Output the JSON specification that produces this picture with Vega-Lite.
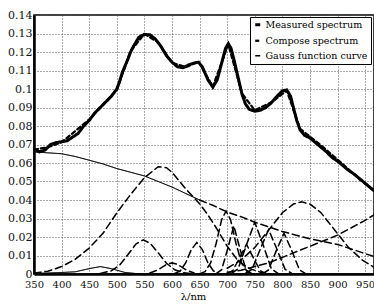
{
  "$schema": "https://vega.github.io/schema/vega-lite/v6.json",
  "width": 340,
  "height": 259,
  "autosize": {"type": "none"},
  "padding": {"left": 34, "top": 15, "right": 0, "bottom": 30},
  "background": "white",
  "config": {
    "font": "DejaVu Serif",
    "view": {"stroke": "black", "strokeWidth": 1.5},
    "axis": {
      "labelFont": "DejaVu Serif",
      "titleFont": "DejaVu Serif",
      "labelFontSize": 11,
      "labelFontWeight": "normal",
      "labelColor": "#111",
      "grid": true,
      "gridColor": "#555",
      "gridDash": [1, 2],
      "gridOpacity": 1,
      "gridWidth": 1,
      "ticks": false,
      "domainColor": "black",
      "domainWidth": 2.5
    },
    "legend": {
      "labelFont": "DejaVu Serif"
    }
  },
  "data": {"values": [
    {"c":"bgs","t":"Background","x":350,"y":0.066},{"c":"bgs","t":"Background","x":375,"y":0.0655},{"c":"bgs","t":"Background","x":400,"y":0.065},{"c":"bgs","t":"Background","x":425,"y":0.0635},{"c":"bgs","t":"Background","x":450,"y":0.0615},{"c":"bgs","t":"Background","x":475,"y":0.0595},{"c":"bgs","t":"Background","x":500,"y":0.057},{"c":"bgs","t":"Background","x":525,"y":0.055},{"c":"bgs","t":"Background","x":550,"y":0.053},{"c":"bgs","t":"Background","x":575,"y":0.05},{"c":"bgs","t":"Background","x":600,"y":0.047},{"c":"bgs","t":"Background","x":625,"y":0.0435},{"c":"bgs","t":"Background","x":650,"y":0.04},
    {"c":"bgd","t":"Gauss function curve","x":650,"y":0.04},{"c":"bgd","t":"Gauss function curve","x":675,"y":0.037},{"c":"bgd","t":"Gauss function curve","x":700,"y":0.0335},{"c":"bgd","t":"Gauss function curve","x":725,"y":0.031},{"c":"bgd","t":"Gauss function curve","x":750,"y":0.028},{"c":"bgd","t":"Gauss function curve","x":775,"y":0.0255},{"c":"bgd","t":"Gauss function curve","x":800,"y":0.023},{"c":"bgd","t":"Gauss function curve","x":825,"y":0.021},{"c":"bgd","t":"Gauss function curve","x":850,"y":0.019},{"c":"bgd","t":"Gauss function curve","x":875,"y":0.0175},{"c":"bgd","t":"Gauss function curve","x":900,"y":0.016},{"c":"bgd","t":"Gauss function curve","x":925,"y":0.0135},{"c":"bgd","t":"Gauss function curve","x":950,"y":0.011},{"c":"bgd","t":"Gauss function curve","x":966,"y":0.0095},
    {"c":"g575","t":"Gauss function curve","x":350,"y":0.0005},{"c":"g575","t":"Gauss function curve","x":375,"y":0.0015},{"c":"g575","t":"Gauss function curve","x":400,"y":0.004},{"c":"g575","t":"Gauss function curve","x":425,"y":0.008},{"c":"g575","t":"Gauss function curve","x":450,"y":0.014},{"c":"g575","t":"Gauss function curve","x":475,"y":0.022},{"c":"g575","t":"Gauss function curve","x":500,"y":0.033},{"c":"g575","t":"Gauss function curve","x":525,"y":0.043},{"c":"g575","t":"Gauss function curve","x":550,"y":0.052},{"c":"g575","t":"Gauss function curve","x":575,"y":0.058},{"c":"g575","t":"Gauss function curve","x":590,"y":0.0575},{"c":"g575","t":"Gauss function curve","x":600,"y":0.055},{"c":"g575","t":"Gauss function curve","x":625,"y":0.046},{"c":"g575","t":"Gauss function curve","x":650,"y":0.038},{"c":"g575","t":"Gauss function curve","x":665,"y":0.032},{"c":"g575","t":"Gauss function curve","x":680,"y":0.025},{"c":"g575","t":"Gauss function curve","x":700,"y":0.015},{"c":"g575","t":"Gauss function curve","x":720,"y":0.007},{"c":"g575","t":"Gauss function curve","x":740,"y":0.003},{"c":"g575","t":"Gauss function curve","x":760,"y":0.001},{"c":"g575","t":"Gauss function curve","x":780,"y":0.0},
    {"c":"g548","t":"Gauss function curve","x":470,"y":0.0003},{"c":"g548","t":"Gauss function curve","x":490,"y":0.0017},{"c":"g548","t":"Gauss function curve","x":505,"y":0.0048},{"c":"g548","t":"Gauss function curve","x":520,"y":0.0104},{"c":"g548","t":"Gauss function curve","x":535,"y":0.0163},{"c":"g548","t":"Gauss function curve","x":548,"y":0.0185},{"c":"g548","t":"Gauss function curve","x":560,"y":0.0167},{"c":"g548","t":"Gauss function curve","x":575,"y":0.0115},{"c":"g548","t":"Gauss function curve","x":590,"y":0.0058},{"c":"g548","t":"Gauss function curve","x":605,"y":0.0023},{"c":"g548","t":"Gauss function curve","x":620,"y":0.0007},{"c":"g548","t":"Gauss function curve","x":640,"y":0.0001},
    {"c":"g470","t":"Background","x":350,"y":0.0003},{"c":"g470","t":"Background","x":400,"y":0.0008},{"c":"g470","t":"Background","x":425,"y":0.0012},{"c":"g470","t":"Background","x":450,"y":0.0029},{"c":"g470","t":"Background","x":470,"y":0.004},{"c":"g470","t":"Background","x":490,"y":0.0029},{"c":"g470","t":"Background","x":515,"y":0.0008},{"c":"g470","t":"Background","x":540,"y":0.0001},
    {"c":"g600","t":"Gauss function curve","x":560,"y":0.0005},{"c":"g600","t":"Gauss function curve","x":575,"y":0.0023},{"c":"g600","t":"Gauss function curve","x":590,"y":0.0052},{"c":"g600","t":"Gauss function curve","x":600,"y":0.006},{"c":"g600","t":"Gauss function curve","x":610,"y":0.0052},{"c":"g600","t":"Gauss function curve","x":625,"y":0.0023},{"c":"g600","t":"Gauss function curve","x":640,"y":0.0005},
    {"c":"g645","t":"Gauss function curve","x":605,"y":0.0003},{"c":"g645","t":"Gauss function curve","x":615,"y":0.0017},{"c":"g645","t":"Gauss function curve","x":625,"y":0.0061},{"c":"g645","t":"Gauss function curve","x":635,"y":0.0132},{"c":"g645","t":"Gauss function curve","x":645,"y":0.017},{"c":"g645","t":"Gauss function curve","x":655,"y":0.0132},{"c":"g645","t":"Gauss function curve","x":665,"y":0.0061},{"c":"g645","t":"Gauss function curve","x":675,"y":0.0017},{"c":"g645","t":"Gauss function curve","x":685,"y":0.0003},
    {"c":"g698","t":"Gauss function curve","x":650,"y":0.0002},{"c":"g698","t":"Gauss function curve","x":660,"y":0.0013},{"c":"g698","t":"Gauss function curve","x":670,"y":0.006},{"c":"g698","t":"Gauss function curve","x":680,"y":0.0165},{"c":"g698","t":"Gauss function curve","x":690,"y":0.0294},{"c":"g698","t":"Gauss function curve","x":698,"y":0.034},{"c":"g698","t":"Gauss function curve","x":706,"y":0.0294},{"c":"g698","t":"Gauss function curve","x":716,"y":0.0165},{"c":"g698","t":"Gauss function curve","x":726,"y":0.006},{"c":"g698","t":"Gauss function curve","x":736,"y":0.0013},{"c":"g698","t":"Gauss function curve","x":746,"y":0.0002},
    {"c":"g712","t":"Gauss function curve","x":680,"y":0.0002},{"c":"g712","t":"Gauss function curve","x":690,"y":0.0023},{"c":"g712","t":"Gauss function curve","x":700,"y":0.0127},{"c":"g712","t":"Gauss function curve","x":712,"y":0.026},{"c":"g712","t":"Gauss function curve","x":724,"y":0.0127},{"c":"g712","t":"Gauss function curve","x":734,"y":0.0023},{"c":"g712","t":"Gauss function curve","x":744,"y":0.0002},
    {"c":"g735","t":"Gauss function curve","x":700,"y":0.0002},{"c":"g735","t":"Gauss function curve","x":710,"y":0.0018},{"c":"g735","t":"Gauss function curve","x":720,"y":0.0073},{"c":"g735","t":"Gauss function curve","x":735,"y":0.016},{"c":"g735","t":"Gauss function curve","x":750,"y":0.0073},{"c":"g735","t":"Gauss function curve","x":760,"y":0.0018},{"c":"g735","t":"Gauss function curve","x":770,"y":0.0002},
    {"c":"g750","t":"Gauss function curve","x":708,"y":0.0003},{"c":"g750","t":"Gauss function curve","x":720,"y":0.0029},{"c":"g750","t":"Gauss function curve","x":735,"y":0.0158},{"c":"g750","t":"Gauss function curve","x":750,"y":0.028},{"c":"g750","t":"Gauss function curve","x":765,"y":0.0158},{"c":"g750","t":"Gauss function curve","x":780,"y":0.0029},{"c":"g750","t":"Gauss function curve","x":792,"y":0.0003},
    {"c":"g775","t":"Gauss function curve","x":733,"y":0.0003},{"c":"g775","t":"Gauss function curve","x":745,"y":0.0025},{"c":"g775","t":"Gauss function curve","x":760,"y":0.0135},{"c":"g775","t":"Gauss function curve","x":775,"y":0.024},{"c":"g775","t":"Gauss function curve","x":790,"y":0.0135},{"c":"g775","t":"Gauss function curve","x":805,"y":0.0025},{"c":"g775","t":"Gauss function curve","x":817,"y":0.0003},
    {"c":"g803","t":"Gauss function curve","x":764,"y":0.0002},{"c":"g803","t":"Gauss function curve","x":775,"y":0.0022},{"c":"g803","t":"Gauss function curve","x":790,"y":0.0134},{"c":"g803","t":"Gauss function curve","x":803,"y":0.022},{"c":"g803","t":"Gauss function curve","x":816,"y":0.0134},{"c":"g803","t":"Gauss function curve","x":831,"y":0.0022},{"c":"g803","t":"Gauss function curve","x":842,"y":0.0002},
    {"c":"g835","t":"Gauss function curve","x":700,"y":0.0031},{"c":"g835","t":"Gauss function curve","x":725,"y":0.0075},{"c":"g835","t":"Gauss function curve","x":750,"y":0.0143},{"c":"g835","t":"Gauss function curve","x":775,"y":0.0237},{"c":"g835","t":"Gauss function curve","x":800,"y":0.0331},{"c":"g835","t":"Gauss function curve","x":820,"y":0.0378},{"c":"g835","t":"Gauss function curve","x":835,"y":0.039},{"c":"g835","t":"Gauss function curve","x":850,"y":0.0378},{"c":"g835","t":"Gauss function curve","x":870,"y":0.0331},{"c":"g835","t":"Gauss function curve","x":895,"y":0.0237},{"c":"g835","t":"Gauss function curve","x":920,"y":0.0143},{"c":"g835","t":"Gauss function curve","x":945,"y":0.0075},{"c":"g835","t":"Gauss function curve","x":966,"y":0.0036},
    {"c":"gir","t":"Gauss function curve","x":700,"y":0.001},{"c":"gir","t":"Gauss function curve","x":725,"y":0.002},{"c":"gir","t":"Gauss function curve","x":750,"y":0.004},{"c":"gir","t":"Gauss function curve","x":775,"y":0.006},{"c":"gir","t":"Gauss function curve","x":800,"y":0.009},{"c":"gir","t":"Gauss function curve","x":825,"y":0.012},{"c":"gir","t":"Gauss function curve","x":850,"y":0.015},{"c":"gir","t":"Gauss function curve","x":875,"y":0.018},{"c":"gir","t":"Gauss function curve","x":900,"y":0.021},{"c":"gir","t":"Gauss function curve","x":925,"y":0.025},{"c":"gir","t":"Gauss function curve","x":950,"y":0.029},{"c":"gir","t":"Gauss function curve","x":966,"y":0.032},
    {"c":"meas","t":"Measured spectrum","x":350,"y":0.0675},{"c":"meas","t":"Measured spectrum","x":360,"y":0.066},{"c":"meas","t":"Measured spectrum","x":370,"y":0.067},{"c":"meas","t":"Measured spectrum","x":380,"y":0.07},{"c":"meas","t":"Measured spectrum","x":390,"y":0.071},{"c":"meas","t":"Measured spectrum","x":400,"y":0.0715},{"c":"meas","t":"Measured spectrum","x":410,"y":0.072},{"c":"meas","t":"Measured spectrum","x":420,"y":0.074},{"c":"meas","t":"Measured spectrum","x":430,"y":0.076},{"c":"meas","t":"Measured spectrum","x":440,"y":0.08},{"c":"meas","t":"Measured spectrum","x":450,"y":0.083},{"c":"meas","t":"Measured spectrum","x":460,"y":0.087},{"c":"meas","t":"Measured spectrum","x":470,"y":0.09},{"c":"meas","t":"Measured spectrum","x":480,"y":0.093},{"c":"meas","t":"Measured spectrum","x":490,"y":0.096},{"c":"meas","t":"Measured spectrum","x":500,"y":0.1},{"c":"meas","t":"Measured spectrum","x":505,"y":0.104},{"c":"meas","t":"Measured spectrum","x":510,"y":0.109},{"c":"meas","t":"Measured spectrum","x":520,"y":0.116},{"c":"meas","t":"Measured spectrum","x":525,"y":0.12},{"c":"meas","t":"Measured spectrum","x":530,"y":0.123},{"c":"meas","t":"Measured spectrum","x":540,"y":0.128},{"c":"meas","t":"Measured spectrum","x":550,"y":0.1295},{"c":"meas","t":"Measured spectrum","x":560,"y":0.1293},{"c":"meas","t":"Measured spectrum","x":570,"y":0.127},{"c":"meas","t":"Measured spectrum","x":580,"y":0.123},{"c":"meas","t":"Measured spectrum","x":590,"y":0.118},{"c":"meas","t":"Measured spectrum","x":600,"y":0.1145},{"c":"meas","t":"Measured spectrum","x":610,"y":0.112},{"c":"meas","t":"Measured spectrum","x":620,"y":0.1115},{"c":"meas","t":"Measured spectrum","x":630,"y":0.113},{"c":"meas","t":"Measured spectrum","x":640,"y":0.114},{"c":"meas","t":"Measured spectrum","x":648,"y":0.1145},{"c":"meas","t":"Measured spectrum","x":655,"y":0.112},{"c":"meas","t":"Measured spectrum","x":665,"y":0.105},{"c":"meas","t":"Measured spectrum","x":674,"y":0.101},{"c":"meas","t":"Measured spectrum","x":682,"y":0.105},{"c":"meas","t":"Measured spectrum","x":690,"y":0.114},{"c":"meas","t":"Measured spectrum","x":697,"y":0.122},{"c":"meas","t":"Measured spectrum","x":702,"y":0.1245},{"c":"meas","t":"Measured spectrum","x":707,"y":0.122},{"c":"meas","t":"Measured spectrum","x":713,"y":0.115},{"c":"meas","t":"Measured spectrum","x":720,"y":0.106},{"c":"meas","t":"Measured spectrum","x":727,"y":0.097},{"c":"meas","t":"Measured spectrum","x":733,"y":0.092},{"c":"meas","t":"Measured spectrum","x":740,"y":0.089},{"c":"meas","t":"Measured spectrum","x":750,"y":0.088},{"c":"meas","t":"Measured spectrum","x":760,"y":0.0885},{"c":"meas","t":"Measured spectrum","x":770,"y":0.09},{"c":"meas","t":"Measured spectrum","x":780,"y":0.0925},{"c":"meas","t":"Measured spectrum","x":790,"y":0.096},{"c":"meas","t":"Measured spectrum","x":800,"y":0.099},{"c":"meas","t":"Measured spectrum","x":808,"y":0.0995},{"c":"meas","t":"Measured spectrum","x":815,"y":0.096},{"c":"meas","t":"Measured spectrum","x":820,"y":0.09},{"c":"meas","t":"Measured spectrum","x":826,"y":0.083},{"c":"meas","t":"Measured spectrum","x":832,"y":0.078},{"c":"meas","t":"Measured spectrum","x":840,"y":0.075},{"c":"meas","t":"Measured spectrum","x":850,"y":0.0735},{"c":"meas","t":"Measured spectrum","x":860,"y":0.071},{"c":"meas","t":"Measured spectrum","x":870,"y":0.0685},{"c":"meas","t":"Measured spectrum","x":880,"y":0.066},{"c":"meas","t":"Measured spectrum","x":890,"y":0.063},{"c":"meas","t":"Measured spectrum","x":900,"y":0.061},{"c":"meas","t":"Measured spectrum","x":910,"y":0.0585},{"c":"meas","t":"Measured spectrum","x":920,"y":0.056},{"c":"meas","t":"Measured spectrum","x":930,"y":0.054},{"c":"meas","t":"Measured spectrum","x":940,"y":0.0515},{"c":"meas","t":"Measured spectrum","x":950,"y":0.049},{"c":"meas","t":"Measured spectrum","x":960,"y":0.0465},{"c":"meas","t":"Measured spectrum","x":966,"y":0.045},
    {"c":"comp","t":"Compose spectrum","x":350,"y":0.0672},{"c":"comp","t":"Compose spectrum","x":375,"y":0.0685},{"c":"comp","t":"Compose spectrum","x":400,"y":0.0712},{"c":"comp","t":"Compose spectrum","x":450,"y":0.0835},{"c":"comp","t":"Compose spectrum","x":500,"y":0.0995},{"c":"comp","t":"Compose spectrum","x":525,"y":0.1205},{"c":"comp","t":"Compose spectrum","x":550,"y":0.1298},{"c":"comp","t":"Compose spectrum","x":575,"y":0.1252},{"c":"comp","t":"Compose spectrum","x":600,"y":0.1142},{"c":"comp","t":"Compose spectrum","x":625,"y":0.1118},{"c":"comp","t":"Compose spectrum","x":648,"y":0.1148},{"c":"comp","t":"Compose spectrum","x":674,"y":0.1012},{"c":"comp","t":"Compose spectrum","x":702,"y":0.1242},{"c":"comp","t":"Compose spectrum","x":727,"y":0.0975},{"c":"comp","t":"Compose spectrum","x":750,"y":0.0885},{"c":"comp","t":"Compose spectrum","x":780,"y":0.0928},{"c":"comp","t":"Compose spectrum","x":808,"y":0.0992},{"c":"comp","t":"Compose spectrum","x":832,"y":0.0785},{"c":"comp","t":"Compose spectrum","x":870,"y":0.0695},{"c":"comp","t":"Compose spectrum","x":900,"y":0.0618},{"c":"comp","t":"Compose spectrum","x":940,"y":0.0512},{"c":"comp","t":"Compose spectrum","x":966,"y":0.0452}
  ]},
  "mark": {"type": "line", "color": "black", "clip": true, "strokeCap": "round"},
  "encoding": {
    "x": {
      "field": "x", "type": "quantitative",
      "scale": {"domain": [350, 966], "nice": false, "zero": false},
      "axis": {"values": [350,400,450,500,550,600,650,700,750,800,850,900,950], "title": "λ/nm", "titleFontSize": 10, "titleFontWeight": "normal", "titleX": 159, "titlePadding": 2, "labelPadding": 5, "labelFontSize": 10, "labelFlush": false}
    },
    "y": {
      "field": "y", "type": "quantitative",
      "scale": {"domain": [0, 0.14], "nice": false},
      "axis": {"values": [0,0.01,0.02,0.03,0.04,0.05,0.06,0.07,0.08,0.09,0.1,0.11,0.12,0.13,0.14], "title": null, "labelPadding": 2, "format": "~g", "labelFlush": false}
    },
    "detail": {"field": "c"},
    "strokeDash": {
      "field": "t", "type": "nominal",
      "scale": {"domain": ["Measured spectrum","Compose spectrum","Gauss function curve","Background"], "range": [[1,0],[4,3],[7,4],[1,0]]},
      "legend": {"values": ["Measured spectrum","Compose spectrum","Gauss function curve"], "title": null, "orient": "none", "legendX": 216, "legendY": 2, "strokeColor": "black", "fillColor": "white", "padding": 3, "labelFontSize": 9.5, "labelColor": "black", "rowPadding": 4, "symbolType": "stroke", "symbolSize": 25, "symbolStrokeColor": "black", "symbolStrokeWidth": 1.5, "labelOffset": 3}
    },
    "strokeWidth": {
      "field": "t", "type": "nominal",
      "scale": {"domain": ["Measured spectrum","Compose spectrum","Gauss function curve","Background"], "range": [3, 0.8, 1.1, 1.3]},
      "legend": null
    }
  }
}
